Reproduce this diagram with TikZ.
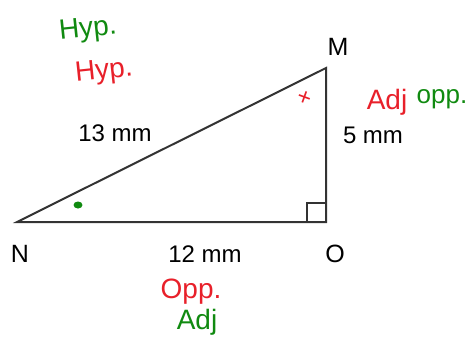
\documentclass[tikz,border=0pt]{standalone}
\usepackage{fontspec}
\setmainfont{Liberation Sans}
\usetikzlibrary{positioning,calc}
\definecolor{edgegray}{HTML}{333333}
\definecolor{penred}{HTML}{E8202A}
\definecolor{pengreen}{HTML}{108A10}

\begin{document}
\begin{tikzpicture}[
    x=1pt,y=-1pt,
    side/.style  = {draw=edgegray,line width=2pt,line join=miter},
    vtx/.style   = {font=\fontsize{25}{25}\selectfont,text=black,inner sep=0pt},
    len/.style   = {font=\fontsize{24}{24}\selectfont,text=black,inner sep=0pt},
    pen/.style   = {font=\fontsize{28}{28}\selectfont,inner sep=0pt},
  ]
  \useasboundingbox (0,0) rectangle (470,340);

  \coordinate (N) at (17,222);
  \coordinate (O) at (326,222);
  \coordinate (M) at (326,68);

  \draw[side] (N) -- (O) -- (M) -- cycle;
  \draw[side,line width=1.5pt] ($(O)+(-19,0)$) |- ($(O)+(0,-19)$);

  \node[vtx] (lM) at (338,47) {M};
  \node[vtx] (lN) at (20,254) {N};
  \node[vtx] (lO) at (335,254) {O};

  \node[len] (hyp) at (115,133) {13 mm};
  \node[len] (opp) at (373,135) {5 mm};
  \node[len] (adj) at (205,254) {12 mm};

  % handwritten notes
  \node[pen,text=pengreen,rotate=6] (h1) at (88,30) {Hyp.};
  \node[pen,text=penred,rotate=6]   (h2) at (104,72) {Hyp.};
  \node[pen,text=penred]            (a1) at (387,102) {Adj};
  \node[pen,text=pengreen,font=\fontsize{26}{26}\selectfont] (o1) at (442,99) {opp.};
  \node[pen,text=penred]            (o2) at (191,292) {Opp.};
  \node[pen,text=pengreen]          (a2) at (197,322) {Adj};

  \node[text=penred,font=\fontsize{24}{24}\selectfont,rotate=-20,inner sep=0pt] (ang) at (304,98) {+};
  \fill[pengreen] (78,205) ellipse (4.5 and 3.5);
\end{tikzpicture}
\end{document}
